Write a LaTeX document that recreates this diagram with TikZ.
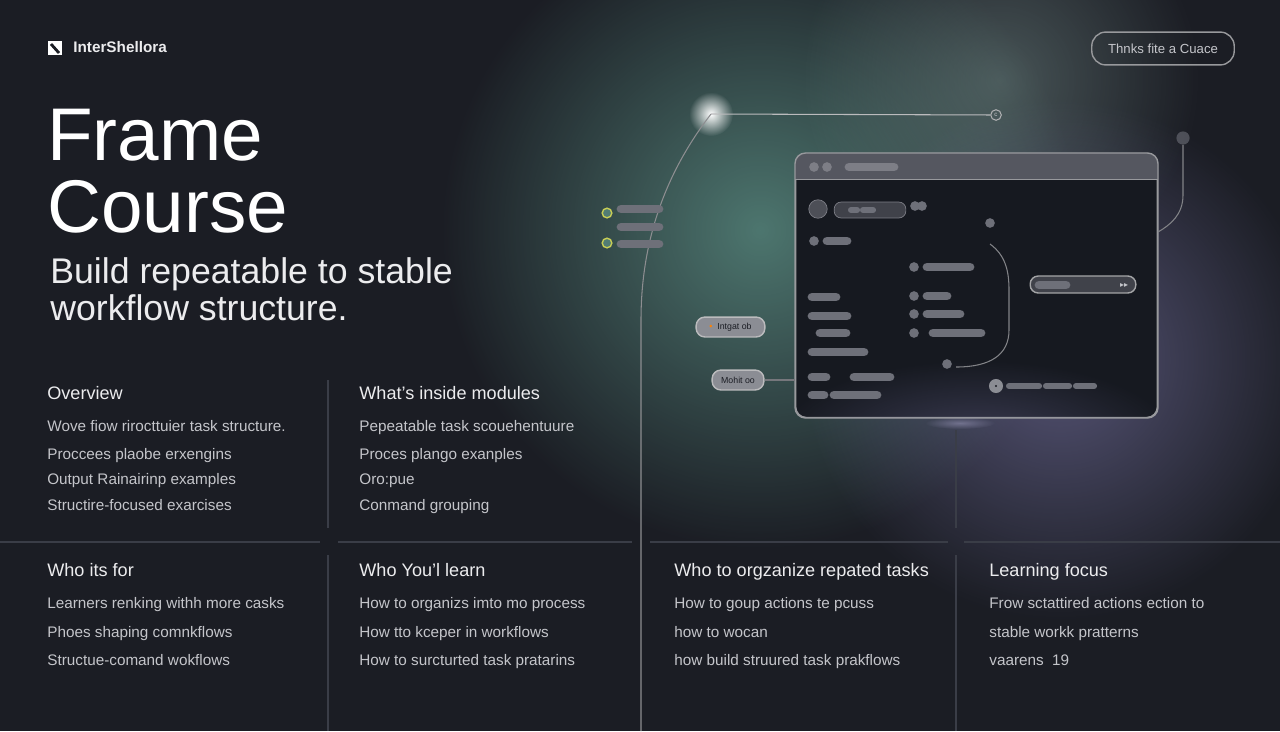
\documentclass[tikz,border=0pt]{standalone}
\usepackage{fontspec}
\setmainfont{Liberation Sans}
\newfontfamily\symfont{DejaVu Sans}
\usetikzlibrary{fadings}
\definecolor{bg}{HTML}{1B1D24}
\definecolor{teal}{HTML}{5E9488}
\definecolor{lav}{HTML}{7D79AC}
\definecolor{hd}{HTML}{ECECEE}
\definecolor{bd}{HTML}{C4C5CA}
\definecolor{ln}{HTML}{3A3D47}
\definecolor{ui}{HTML}{6E7079}
\definecolor{win}{HTML}{161920}
\tikzfading[name=glow,inner color=transparent!0,outer color=transparent!100]
\tikzset{
  hdr/.style={anchor=base west,text=hd,font=\fontsize{10.3}{12}\selectfont,inner sep=0},
  body/.style={anchor=base west,text=bd,font=\fontsize{8.7}{10}\selectfont,inner sep=0},
  grid/.style={draw=ln,line width=0.8pt},
  bar/.style={line width=5pt,line cap=round,draw=ui},
  dotn/.style={circle,fill=ui,inner sep=0,minimum size=5.5pt},
  wire/.style={draw=white!70!bg,line width=0.6pt},
}
\begin{document}
\begin{tikzpicture}[x=0.02cm,y=-0.02cm]
\fill[bg] (0,0) rectangle (1280,731);
\useasboundingbox (0,0) rectangle (1280,731);
% glows
\fill[teal,path fading=glow,fill opacity=0.75] (760,230) circle (320);
\fill[lav,path fading=glow,fill opacity=0.6] (1060,360) circle (260);
\fill[teal!60!white,path fading=glow,fill opacity=0.35] (1000,80) circle (200);
\fill[white,path fading=glow] (711,114) circle (22);
% logo and button
\fill[white] (48,41) rectangle (62,55);
\draw[bg,line width=1.6pt] (51,44) -- (59,53);
\node[anchor=base west,text=hd,font=\fontsize{8.7}{10}\selectfont\bfseries,inner sep=0] (logo) at (73,52) {InterShellora};
\node[draw=white!55!bg,rounded corners=8pt,minimum width=143*0.567pt,minimum height=33*0.567pt,text=bd,font=\fontsize{7.5}{9}\selectfont,line width=0.8pt] (btn) at (1163,48.5) {Thnks fite a Cuace};
% title
\node[anchor=base west,text=white,font=\fontsize{42.5}{48}\selectfont,inner sep=0] (t1) at (47,160) {Frame};
\node[anchor=base west,text=white,font=\fontsize{42.5}{48}\selectfont,inner sep=0] (t2) at (47,232) {Course};
\node[anchor=base west,text=hd,font=\fontsize{20.3}{24}\selectfont,inner sep=0] (s1) at (50,283) {Build repeatable to stable};
\node[anchor=base west,text=hd,font=\fontsize{20.3}{24}\selectfont,inner sep=0] (s2) at (50,320) {workflow structure.};
% grid
\coordinate (h1) at (0,542); \coordinate (h2) at (320,542);
\coordinate (h3) at (338,542); \coordinate (h4) at (632,542);
\coordinate (h5) at (650,542); \coordinate (h6) at (948,542);
\coordinate (h7) at (964,542); \coordinate (h8) at (1280,542);
\draw[grid] (h1)--(h2) (h3)--(h4) (h5)--(h6) (h7)--(h8);
\coordinate (v1) at (328,380); \coordinate (v2) at (328,528);
\coordinate (v3) at (328,555); \coordinate (v4) at (328,731);
\coordinate (v5) at (956,430); \coordinate (v6) at (956,528);
\coordinate (v7) at (956,555); \coordinate (v8) at (956,731);
\draw[grid] (v1)--(v2) (v3)--(v4) (v5)--(v6) (v7)--(v8);
% section texts
\node[hdr] (o) at (47,399) {Overview};
\node[body] at (47,431) {Wove fiow rirocttuier task structure.};
\node[body] at (47,459) {Proccees plaobe erxengins};
\node[body] at (47,484) {Output Rainairinp examples};
\node[body] at (47,510) {Structire-focused exarcises};
\node[hdr] (w) at (359,399) {What's inside modules};
\node[body] at (359,431) {Pepeatable task scouehentuure};
\node[body] at (359,459) {Proces plango exanples};
\node[body] at (359,484) {Oro:pue};
\node[body] at (359,510) {Conmand grouping};
\node[hdr] at (47,576) {Who its for};
\node[body] at (47,608) {Learners renking withh more casks};
\node[body] at (47,637) {Phoes shaping comnkflows};
\node[body] at (47,665) {Structue-comand wokflows};
\node[hdr] at (359,576) {Who You'l learn};
\node[body] at (359,608) {How to organizs imto mo process};
\node[body] at (359,637) {How tto kceper in workflows};
\node[body] at (359,665) {How to surcturted task pratarins};
\node[hdr] at (674,576) {Who to orgzanize repated tasks};
\node[body] at (674,608) {How to goup actions te pcuss};
\node[body] at (674,637) {how to wocan};
\node[body] at (674,665) {how build struured task prakflows};
\node[hdr] at (989,576) {Learning focus};
\node[body] at (989,608) {Frow sctattired actions ection to};
\node[body] at (989,637) {stable workk pratterns};
\node[body] at (989,665) {vaarens\ \ 19};
% wires
\coordinate (g) at (711,114);
\node[circle,draw=white!65!bg,inner sep=0,minimum size=6pt,line width=0.6pt,font=\fontsize{3.5}{4}\selectfont,text=bd] (ec) at (996,115) {c};
\draw[wire] (g) -- (ec);
\coordinate (cb) at (641,731);
\draw[wire,draw=white!50!bg] (g) .. controls (660,180) and (641,250) .. (641,320) -- (cb);
\node[circle,fill=ui,inner sep=0,minimum size=7.5pt,opacity=0.6] (rc) at (1183,138) {};
% window
\node[draw=white!55!bg,fill=win,rounded corners=6pt,line width=0.8pt,minimum width=363*0.567pt,minimum height=265*0.567pt,inner sep=0] (win) at (976.5,285.5) {};
\begin{scope}
\clip[rounded corners=6pt] (795,153) rectangle (1158,418);
\fill[ui!70!bg] (795,153) rectangle (1158,179);
\fill[lav,path fading=glow,fill opacity=0.35] (976,440) ellipse (200 and 80);
\end{scope}
\draw[white!55!bg,line width=0.8pt] (795,179.5) -- (1158,179.5);
\draw[white!55!bg,line width=0.8pt,rounded corners=6pt] (795,153) rectangle (1158,418);
\draw[wire,draw=white!45!bg] (rc) -- (1183,195) .. controls (1183,215) and (1170,225) .. (1158,232);
\node[dotn,fill=ui!90!white] at (814,167) {};
\node[dotn,fill=ui!90!white] at (827,167) {};
\draw[bar,draw=ui!90!white] (849,167) -- (894,167);
\node[circle,draw=ui!90!white,fill=ui!60!bg,inner sep=0,minimum size=10.5pt] at (818,209) {};
\node[draw=ui!90!white,fill=ui!45!bg,rounded corners=4pt,minimum width=72*0.567pt,minimum height=16*0.567pt,inner sep=0] at (870,210) {};
\draw[bar,line width=3.5pt] (851,210) -- (857,210) (863,210) -- (873,210);
\node[dotn] at (915,206) {}; \node[dotn] at (922,206) {};
\node[dotn] at (990,223) {};
\node[dotn] at (814,241) {}; \draw[bar] (827,241) -- (847,241);
\node[dotn] at (914,267) {}; \draw[bar] (927,267) -- (970,267);
\draw[bar] (812,297) -- (836,297);
\node[dotn] at (914,296) {}; \draw[bar] (927,296) -- (947,296);
\draw[bar] (812,316) -- (847,316);
\node[dotn] at (914,314) {}; \draw[bar] (927,314) -- (960,314);
\draw[bar] (820,333) -- (846,333);
\node[dotn] at (914,333) {}; \draw[bar] (933,333) -- (981,333);
\draw[bar] (812,352) -- (864,352);
\draw[bar] (812,377) -- (826,377); \draw[bar] (854,377) -- (890,377);
\draw[bar] (812,395) -- (824,395); \draw[bar] (834,395) -- (877,395);
\node[dotn] (cd) at (947,364) {};
\coordinate (ct) at (990,244);
\draw[wire,draw=white!45!bg] (ct) .. controls (1005,255) and (1009,270) .. (1009,290) -- (1009,330) .. controls (1009,355) and (990,367) .. (956,367);
\node[draw=white!60!bg,fill=ui!45!bg,rounded corners=4.5pt,minimum width=106*0.567pt,minimum height=17*0.567pt,inner sep=0,line width=0.8pt] (rp) at (1083,284.5) {};
\draw[bar] (1039,285) -- (1066,285);
\node[text=bd,font=\symfont\fontsize{4.5}{5}\selectfont,inner sep=0] at (1124,285) {▸▸};
\node[circle,fill=ui!80!white,inner sep=0,minimum size=8pt] at (996,386) {};
\fill[bg] (996,386) circle (1.2);
\draw[bar,line width=3.5pt] (1009,386) -- (1039,386) (1046,386) -- (1069,386) (1076,386) -- (1094,386);
% left list
\foreach \y in {213,243}{\node[circle,draw=yellow!60!teal,fill=teal!80!bg,inner sep=0,minimum size=5.5pt,line width=0.8pt] at (607,\y) {};}
\draw[bar] (621,209) -- (659,209) (621,227) -- (659,227) (621,244) -- (659,244);
% pills
\node[draw=white!70!bg,fill=ui!80!white,rounded corners=5pt,minimum width=69*0.567pt,minimum height=20*0.567pt,inner sep=0,text=bg,font=\fontsize{5}{6}\selectfont,line width=0.8pt] (p1) at (730.5,327) {\textcolor{orange}{•}\ \ Intgat ob};
\node[draw=white!70!bg,fill=ui!80!white,rounded corners=5pt,minimum width=52*0.567pt,minimum height=20*0.567pt,inner sep=0,text=bg,font=\fontsize{5}{6}\selectfont,line width=0.8pt] (p2) at (738,380) {Mohit oo};
\draw[wire,draw=white!40!bg] (p2.east) -- (795,380);
\fill[lav!70!white,path fading=glow,fill opacity=0.5] (960,423) ellipse (35 and 6);
\end{tikzpicture}
\end{document}
